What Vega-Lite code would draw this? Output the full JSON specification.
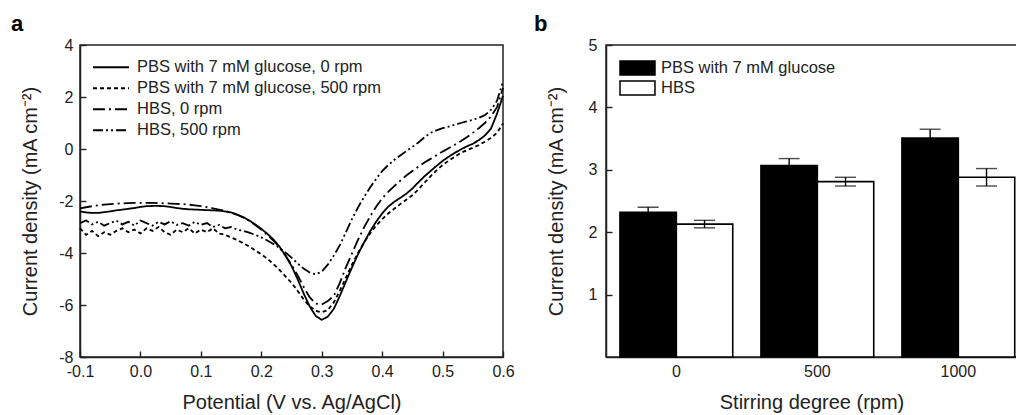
{
"$schema": "https://vega.github.io/schema/vega-lite/v6.json",
"background": "white",
"padding": {"left": 10, "top": 12, "right": 0, "bottom": 0},
"spacing": 18,
"resolve": {"legend": {"strokeDash": "independent", "fill": "independent"}},
"config": {
  "font": "Liberation Sans",
  "view": {"stroke": "#222", "strokeWidth": 1.5},
  "axis": {"grid": false, "domainColor": "#222", "tickColor": "#222", "labelColor": "#222", "titleColor": "#222", "labelFont": "Liberation Sans", "titleFont": "Liberation Sans", "labelFontSize": 16, "titleFontSize": 20, "titleFontWeight": "normal", "tickSize": -6, "tickWidth": 1.4, "domainWidth": 1.5},
  "title": {"font": "Liberation Sans", "fontSize": 22, "fontWeight": "bold", "anchor": "start", "frame": "group", "color": "black", "offset": 1},
  "legend": {"labelFont": "Liberation Sans", "labelColor": "#222", "labelFontSize": 16.5, "labelLimit": 0}
},
"datasets": {
"cv": [
{"series":"PBS with 7 mM glucose, 0 rpm","E":-0.10,"j":-2.40},{"series":"PBS with 7 mM glucose, 0 rpm","E":-0.09,"j":-2.44},{"series":"PBS with 7 mM glucose, 0 rpm","E":-0.08,"j":-2.46},{"series":"PBS with 7 mM glucose, 0 rpm","E":-0.07,"j":-2.46},{"series":"PBS with 7 mM glucose, 0 rpm","E":-0.06,"j":-2.43},{"series":"PBS with 7 mM glucose, 0 rpm","E":-0.05,"j":-2.40},{"series":"PBS with 7 mM glucose, 0 rpm","E":-0.04,"j":-2.36},{"series":"PBS with 7 mM glucose, 0 rpm","E":-0.03,"j":-2.33},{"series":"PBS with 7 mM glucose, 0 rpm","E":-0.02,"j":-2.30},{"series":"PBS with 7 mM glucose, 0 rpm","E":-0.01,"j":-2.27},
{"series":"PBS with 7 mM glucose, 0 rpm","E":0.00,"j":-2.23},{"series":"PBS with 7 mM glucose, 0 rpm","E":0.01,"j":-2.20},{"series":"PBS with 7 mM glucose, 0 rpm","E":0.02,"j":-2.19},{"series":"PBS with 7 mM glucose, 0 rpm","E":0.03,"j":-2.19},{"series":"PBS with 7 mM glucose, 0 rpm","E":0.04,"j":-2.20},{"series":"PBS with 7 mM glucose, 0 rpm","E":0.05,"j":-2.23},{"series":"PBS with 7 mM glucose, 0 rpm","E":0.06,"j":-2.27},{"series":"PBS with 7 mM glucose, 0 rpm","E":0.07,"j":-2.30},{"series":"PBS with 7 mM glucose, 0 rpm","E":0.08,"j":-2.32},{"series":"PBS with 7 mM glucose, 0 rpm","E":0.09,"j":-2.33},
{"series":"PBS with 7 mM glucose, 0 rpm","E":0.10,"j":-2.34},{"series":"PBS with 7 mM glucose, 0 rpm","E":0.11,"j":-2.35},{"series":"PBS with 7 mM glucose, 0 rpm","E":0.12,"j":-2.36},{"series":"PBS with 7 mM glucose, 0 rpm","E":0.13,"j":-2.37},{"series":"PBS with 7 mM glucose, 0 rpm","E":0.14,"j":-2.40},{"series":"PBS with 7 mM glucose, 0 rpm","E":0.15,"j":-2.44},{"series":"PBS with 7 mM glucose, 0 rpm","E":0.16,"j":-2.52},{"series":"PBS with 7 mM glucose, 0 rpm","E":0.17,"j":-2.62},{"series":"PBS with 7 mM glucose, 0 rpm","E":0.18,"j":-2.75},{"series":"PBS with 7 mM glucose, 0 rpm","E":0.19,"j":-2.90},
{"series":"PBS with 7 mM glucose, 0 rpm","E":0.20,"j":-3.07},{"series":"PBS with 7 mM glucose, 0 rpm","E":0.21,"j":-3.26},{"series":"PBS with 7 mM glucose, 0 rpm","E":0.22,"j":-3.48},{"series":"PBS with 7 mM glucose, 0 rpm","E":0.23,"j":-3.75},{"series":"PBS with 7 mM glucose, 0 rpm","E":0.24,"j":-4.10},{"series":"PBS with 7 mM glucose, 0 rpm","E":0.25,"j":-4.50},{"series":"PBS with 7 mM glucose, 0 rpm","E":0.26,"j":-5.00},{"series":"PBS with 7 mM glucose, 0 rpm","E":0.27,"j":-5.55},{"series":"PBS with 7 mM glucose, 0 rpm","E":0.28,"j":-6.05},{"series":"PBS with 7 mM glucose, 0 rpm","E":0.29,"j":-6.42},
{"series":"PBS with 7 mM glucose, 0 rpm","E":0.30,"j":-6.57},{"series":"PBS with 7 mM glucose, 0 rpm","E":0.31,"j":-6.45},{"series":"PBS with 7 mM glucose, 0 rpm","E":0.32,"j":-6.15},{"series":"PBS with 7 mM glucose, 0 rpm","E":0.33,"j":-5.65},{"series":"PBS with 7 mM glucose, 0 rpm","E":0.34,"j":-5.10},{"series":"PBS with 7 mM glucose, 0 rpm","E":0.35,"j":-4.56},{"series":"PBS with 7 mM glucose, 0 rpm","E":0.36,"j":-4.05},{"series":"PBS with 7 mM glucose, 0 rpm","E":0.37,"j":-3.60},{"series":"PBS with 7 mM glucose, 0 rpm","E":0.38,"j":-3.17},{"series":"PBS with 7 mM glucose, 0 rpm","E":0.39,"j":-2.80},
{"series":"PBS with 7 mM glucose, 0 rpm","E":0.40,"j":-2.48},{"series":"PBS with 7 mM glucose, 0 rpm","E":0.41,"j":-2.22},{"series":"PBS with 7 mM glucose, 0 rpm","E":0.42,"j":-2.03},{"series":"PBS with 7 mM glucose, 0 rpm","E":0.43,"j":-1.88},{"series":"PBS with 7 mM glucose, 0 rpm","E":0.44,"j":-1.72},{"series":"PBS with 7 mM glucose, 0 rpm","E":0.45,"j":-1.52},{"series":"PBS with 7 mM glucose, 0 rpm","E":0.46,"j":-1.28},{"series":"PBS with 7 mM glucose, 0 rpm","E":0.47,"j":-1.05},{"series":"PBS with 7 mM glucose, 0 rpm","E":0.48,"j":-0.85},{"series":"PBS with 7 mM glucose, 0 rpm","E":0.49,"j":-0.65},
{"series":"PBS with 7 mM glucose, 0 rpm","E":0.50,"j":-0.46},{"series":"PBS with 7 mM glucose, 0 rpm","E":0.51,"j":-0.30},{"series":"PBS with 7 mM glucose, 0 rpm","E":0.52,"j":-0.15},{"series":"PBS with 7 mM glucose, 0 rpm","E":0.53,"j":-0.02},{"series":"PBS with 7 mM glucose, 0 rpm","E":0.54,"j":0.10},{"series":"PBS with 7 mM glucose, 0 rpm","E":0.55,"j":0.20},{"series":"PBS with 7 mM glucose, 0 rpm","E":0.56,"j":0.34},{"series":"PBS with 7 mM glucose, 0 rpm","E":0.57,"j":0.52},{"series":"PBS with 7 mM glucose, 0 rpm","E":0.58,"j":0.78},{"series":"PBS with 7 mM glucose, 0 rpm","E":0.59,"j":1.35},{"series":"PBS with 7 mM glucose, 0 rpm","E":0.60,"j":2.05},

{"series":"PBS with 7 mM glucose, 500 rpm","E":-0.10,"j":-3.05},{"series":"PBS with 7 mM glucose, 500 rpm","E":-0.09,"j":-3.30},{"series":"PBS with 7 mM glucose, 500 rpm","E":-0.08,"j":-3.15},{"series":"PBS with 7 mM glucose, 500 rpm","E":-0.07,"j":-3.35},{"series":"PBS with 7 mM glucose, 500 rpm","E":-0.06,"j":-3.20},{"series":"PBS with 7 mM glucose, 500 rpm","E":-0.05,"j":-3.30},{"series":"PBS with 7 mM glucose, 500 rpm","E":-0.04,"j":-3.15},{"series":"PBS with 7 mM glucose, 500 rpm","E":-0.03,"j":-3.05},{"series":"PBS with 7 mM glucose, 500 rpm","E":-0.02,"j":-3.20},{"series":"PBS with 7 mM glucose, 500 rpm","E":-0.01,"j":-3.10},
{"series":"PBS with 7 mM glucose, 500 rpm","E":0.00,"j":-3.25},{"series":"PBS with 7 mM glucose, 500 rpm","E":0.01,"j":-3.05},{"series":"PBS with 7 mM glucose, 500 rpm","E":0.02,"j":-3.15},{"series":"PBS with 7 mM glucose, 500 rpm","E":0.03,"j":-3.00},{"series":"PBS with 7 mM glucose, 500 rpm","E":0.04,"j":-3.20},{"series":"PBS with 7 mM glucose, 500 rpm","E":0.05,"j":-3.30},{"series":"PBS with 7 mM glucose, 500 rpm","E":0.06,"j":-3.10},{"series":"PBS with 7 mM glucose, 500 rpm","E":0.07,"j":-3.20},{"series":"PBS with 7 mM glucose, 500 rpm","E":0.08,"j":-3.05},{"series":"PBS with 7 mM glucose, 500 rpm","E":0.09,"j":-3.25},
{"series":"PBS with 7 mM glucose, 500 rpm","E":0.10,"j":-3.10},{"series":"PBS with 7 mM glucose, 500 rpm","E":0.11,"j":-3.20},{"series":"PBS with 7 mM glucose, 500 rpm","E":0.12,"j":-3.05},{"series":"PBS with 7 mM glucose, 500 rpm","E":0.13,"j":-3.25},{"series":"PBS with 7 mM glucose, 500 rpm","E":0.14,"j":-3.30},{"series":"PBS with 7 mM glucose, 500 rpm","E":0.15,"j":-3.40},{"series":"PBS with 7 mM glucose, 500 rpm","E":0.16,"j":-3.50},{"series":"PBS with 7 mM glucose, 500 rpm","E":0.17,"j":-3.62},{"series":"PBS with 7 mM glucose, 500 rpm","E":0.18,"j":-3.75},{"series":"PBS with 7 mM glucose, 500 rpm","E":0.19,"j":-3.90},
{"series":"PBS with 7 mM glucose, 500 rpm","E":0.20,"j":-4.05},{"series":"PBS with 7 mM glucose, 500 rpm","E":0.21,"j":-4.22},{"series":"PBS with 7 mM glucose, 500 rpm","E":0.22,"j":-4.42},{"series":"PBS with 7 mM glucose, 500 rpm","E":0.23,"j":-4.65},{"series":"PBS with 7 mM glucose, 500 rpm","E":0.24,"j":-4.90},{"series":"PBS with 7 mM glucose, 500 rpm","E":0.25,"j":-5.15},{"series":"PBS with 7 mM glucose, 500 rpm","E":0.26,"j":-5.45},{"series":"PBS with 7 mM glucose, 500 rpm","E":0.27,"j":-5.78},{"series":"PBS with 7 mM glucose, 500 rpm","E":0.28,"j":-6.05},{"series":"PBS with 7 mM glucose, 500 rpm","E":0.29,"j":-6.22},
{"series":"PBS with 7 mM glucose, 500 rpm","E":0.30,"j":-6.28},{"series":"PBS with 7 mM glucose, 500 rpm","E":0.31,"j":-6.20},{"series":"PBS with 7 mM glucose, 500 rpm","E":0.32,"j":-5.90},{"series":"PBS with 7 mM glucose, 500 rpm","E":0.33,"j":-5.45},{"series":"PBS with 7 mM glucose, 500 rpm","E":0.34,"j":-4.95},{"series":"PBS with 7 mM glucose, 500 rpm","E":0.35,"j":-4.45},{"series":"PBS with 7 mM glucose, 500 rpm","E":0.36,"j":-4.00},{"series":"PBS with 7 mM glucose, 500 rpm","E":0.37,"j":-3.60},{"series":"PBS with 7 mM glucose, 500 rpm","E":0.38,"j":-3.25},{"series":"PBS with 7 mM glucose, 500 rpm","E":0.39,"j":-2.95},
{"series":"PBS with 7 mM glucose, 500 rpm","E":0.40,"j":-2.70},{"series":"PBS with 7 mM glucose, 500 rpm","E":0.41,"j":-2.48},{"series":"PBS with 7 mM glucose, 500 rpm","E":0.42,"j":-2.30},{"series":"PBS with 7 mM glucose, 500 rpm","E":0.43,"j":-2.12},{"series":"PBS with 7 mM glucose, 500 rpm","E":0.44,"j":-1.95},{"series":"PBS with 7 mM glucose, 500 rpm","E":0.45,"j":-1.78},{"series":"PBS with 7 mM glucose, 500 rpm","E":0.46,"j":-1.55},{"series":"PBS with 7 mM glucose, 500 rpm","E":0.47,"j":-1.30},{"series":"PBS with 7 mM glucose, 500 rpm","E":0.48,"j":-1.05},{"series":"PBS with 7 mM glucose, 500 rpm","E":0.49,"j":-0.82},
{"series":"PBS with 7 mM glucose, 500 rpm","E":0.50,"j":-0.62},{"series":"PBS with 7 mM glucose, 500 rpm","E":0.51,"j":-0.45},{"series":"PBS with 7 mM glucose, 500 rpm","E":0.52,"j":-0.30},{"series":"PBS with 7 mM glucose, 500 rpm","E":0.53,"j":-0.15},{"series":"PBS with 7 mM glucose, 500 rpm","E":0.54,"j":-0.05},{"series":"PBS with 7 mM glucose, 500 rpm","E":0.55,"j":0.05},{"series":"PBS with 7 mM glucose, 500 rpm","E":0.56,"j":0.15},{"series":"PBS with 7 mM glucose, 500 rpm","E":0.57,"j":0.28},{"series":"PBS with 7 mM glucose, 500 rpm","E":0.58,"j":0.42},{"series":"PBS with 7 mM glucose, 500 rpm","E":0.59,"j":0.62},{"series":"PBS with 7 mM glucose, 500 rpm","E":0.60,"j":0.98},

{"series":"HBS, 0 rpm","E":-0.10,"j":-2.28},{"series":"HBS, 0 rpm","E":-0.09,"j":-2.24},{"series":"HBS, 0 rpm","E":-0.08,"j":-2.20},{"series":"HBS, 0 rpm","E":-0.07,"j":-2.17},{"series":"HBS, 0 rpm","E":-0.06,"j":-2.14},{"series":"HBS, 0 rpm","E":-0.05,"j":-2.12},{"series":"HBS, 0 rpm","E":-0.04,"j":-2.10},{"series":"HBS, 0 rpm","E":-0.03,"j":-2.09},{"series":"HBS, 0 rpm","E":-0.02,"j":-2.08},{"series":"HBS, 0 rpm","E":-0.01,"j":-2.07},
{"series":"HBS, 0 rpm","E":0.00,"j":-2.07},{"series":"HBS, 0 rpm","E":0.01,"j":-2.07},{"series":"HBS, 0 rpm","E":0.02,"j":-2.07},{"series":"HBS, 0 rpm","E":0.03,"j":-2.08},{"series":"HBS, 0 rpm","E":0.04,"j":-2.09},{"series":"HBS, 0 rpm","E":0.05,"j":-2.10},{"series":"HBS, 0 rpm","E":0.06,"j":-2.11},{"series":"HBS, 0 rpm","E":0.07,"j":-2.12},{"series":"HBS, 0 rpm","E":0.08,"j":-2.14},{"series":"HBS, 0 rpm","E":0.09,"j":-2.17},
{"series":"HBS, 0 rpm","E":0.10,"j":-2.20},{"series":"HBS, 0 rpm","E":0.11,"j":-2.24},{"series":"HBS, 0 rpm","E":0.12,"j":-2.28},{"series":"HBS, 0 rpm","E":0.13,"j":-2.33},{"series":"HBS, 0 rpm","E":0.14,"j":-2.38},{"series":"HBS, 0 rpm","E":0.15,"j":-2.45},{"series":"HBS, 0 rpm","E":0.16,"j":-2.53},{"series":"HBS, 0 rpm","E":0.17,"j":-2.63},{"series":"HBS, 0 rpm","E":0.18,"j":-2.76},{"series":"HBS, 0 rpm","E":0.19,"j":-2.92},
{"series":"HBS, 0 rpm","E":0.20,"j":-3.10},{"series":"HBS, 0 rpm","E":0.21,"j":-3.30},{"series":"HBS, 0 rpm","E":0.22,"j":-3.52},{"series":"HBS, 0 rpm","E":0.23,"j":-3.78},{"series":"HBS, 0 rpm","E":0.24,"j":-4.10},{"series":"HBS, 0 rpm","E":0.25,"j":-4.45},{"series":"HBS, 0 rpm","E":0.26,"j":-4.85},{"series":"HBS, 0 rpm","E":0.27,"j":-5.30},{"series":"HBS, 0 rpm","E":0.28,"j":-5.70},{"series":"HBS, 0 rpm","E":0.29,"j":-5.95},
{"series":"HBS, 0 rpm","E":0.30,"j":-5.98},{"series":"HBS, 0 rpm","E":0.31,"j":-5.85},{"series":"HBS, 0 rpm","E":0.32,"j":-5.65},{"series":"HBS, 0 rpm","E":0.33,"j":-5.15},{"series":"HBS, 0 rpm","E":0.34,"j":-4.55},{"series":"HBS, 0 rpm","E":0.35,"j":-4.02},{"series":"HBS, 0 rpm","E":0.36,"j":-3.50},{"series":"HBS, 0 rpm","E":0.37,"j":-3.02},{"series":"HBS, 0 rpm","E":0.38,"j":-2.60},{"series":"HBS, 0 rpm","E":0.39,"j":-2.22},
{"series":"HBS, 0 rpm","E":0.40,"j":-1.90},{"series":"HBS, 0 rpm","E":0.41,"j":-1.65},{"series":"HBS, 0 rpm","E":0.42,"j":-1.43},{"series":"HBS, 0 rpm","E":0.43,"j":-1.22},{"series":"HBS, 0 rpm","E":0.44,"j":-1.02},{"series":"HBS, 0 rpm","E":0.45,"j":-0.85},{"series":"HBS, 0 rpm","E":0.46,"j":-0.68},{"series":"HBS, 0 rpm","E":0.47,"j":-0.52},{"series":"HBS, 0 rpm","E":0.48,"j":-0.38},{"series":"HBS, 0 rpm","E":0.49,"j":-0.24},
{"series":"HBS, 0 rpm","E":0.50,"j":-0.10},{"series":"HBS, 0 rpm","E":0.51,"j":0.03},{"series":"HBS, 0 rpm","E":0.52,"j":0.16},{"series":"HBS, 0 rpm","E":0.53,"j":0.30},{"series":"HBS, 0 rpm","E":0.54,"j":0.45},{"series":"HBS, 0 rpm","E":0.55,"j":0.62},{"series":"HBS, 0 rpm","E":0.56,"j":0.80},{"series":"HBS, 0 rpm","E":0.57,"j":1.00},{"series":"HBS, 0 rpm","E":0.58,"j":1.25},{"series":"HBS, 0 rpm","E":0.59,"j":1.60},{"series":"HBS, 0 rpm","E":0.60,"j":2.35},

{"series":"HBS, 500 rpm","E":-0.10,"j":-2.85},{"series":"HBS, 500 rpm","E":-0.09,"j":-2.75},{"series":"HBS, 500 rpm","E":-0.08,"j":-2.90},{"series":"HBS, 500 rpm","E":-0.07,"j":-2.80},{"series":"HBS, 500 rpm","E":-0.06,"j":-2.95},{"series":"HBS, 500 rpm","E":-0.05,"j":-2.85},{"series":"HBS, 500 rpm","E":-0.04,"j":-2.75},{"series":"HBS, 500 rpm","E":-0.03,"j":-2.90},{"series":"HBS, 500 rpm","E":-0.02,"j":-2.80},{"series":"HBS, 500 rpm","E":-0.01,"j":-2.95},
{"series":"HBS, 500 rpm","E":0.00,"j":-2.75},{"series":"HBS, 500 rpm","E":0.01,"j":-2.85},{"series":"HBS, 500 rpm","E":0.02,"j":-2.95},{"series":"HBS, 500 rpm","E":0.03,"j":-2.80},{"series":"HBS, 500 rpm","E":0.04,"j":-2.90},{"series":"HBS, 500 rpm","E":0.05,"j":-2.78},{"series":"HBS, 500 rpm","E":0.06,"j":-2.92},{"series":"HBS, 500 rpm","E":0.07,"j":-2.85},{"series":"HBS, 500 rpm","E":0.08,"j":-2.95},{"series":"HBS, 500 rpm","E":0.09,"j":-2.80},
{"series":"HBS, 500 rpm","E":0.10,"j":-2.92},{"series":"HBS, 500 rpm","E":0.11,"j":-2.85},{"series":"HBS, 500 rpm","E":0.12,"j":-3.00},{"series":"HBS, 500 rpm","E":0.13,"j":-2.92},{"series":"HBS, 500 rpm","E":0.14,"j":-3.05},{"series":"HBS, 500 rpm","E":0.15,"j":-3.00},{"series":"HBS, 500 rpm","E":0.16,"j":-3.10},{"series":"HBS, 500 rpm","E":0.17,"j":-3.15},{"series":"HBS, 500 rpm","E":0.18,"j":-3.22},{"series":"HBS, 500 rpm","E":0.19,"j":-3.30},
{"series":"HBS, 500 rpm","E":0.20,"j":-3.40},{"series":"HBS, 500 rpm","E":0.21,"j":-3.52},{"series":"HBS, 500 rpm","E":0.22,"j":-3.65},{"series":"HBS, 500 rpm","E":0.23,"j":-3.80},{"series":"HBS, 500 rpm","E":0.24,"j":-3.98},{"series":"HBS, 500 rpm","E":0.25,"j":-4.18},{"series":"HBS, 500 rpm","E":0.26,"j":-4.40},{"series":"HBS, 500 rpm","E":0.27,"j":-4.60},{"series":"HBS, 500 rpm","E":0.28,"j":-4.75},{"series":"HBS, 500 rpm","E":0.29,"j":-4.82},
{"series":"HBS, 500 rpm","E":0.30,"j":-4.72},{"series":"HBS, 500 rpm","E":0.31,"j":-4.45},{"series":"HBS, 500 rpm","E":0.32,"j":-4.10},{"series":"HBS, 500 rpm","E":0.33,"j":-3.70},{"series":"HBS, 500 rpm","E":0.34,"j":-3.20},{"series":"HBS, 500 rpm","E":0.35,"j":-2.70},{"series":"HBS, 500 rpm","E":0.36,"j":-2.25},{"series":"HBS, 500 rpm","E":0.37,"j":-1.85},{"series":"HBS, 500 rpm","E":0.38,"j":-1.48},{"series":"HBS, 500 rpm","E":0.39,"j":-1.15},
{"series":"HBS, 500 rpm","E":0.40,"j":-0.85},{"series":"HBS, 500 rpm","E":0.41,"j":-0.62},{"series":"HBS, 500 rpm","E":0.42,"j":-0.42},{"series":"HBS, 500 rpm","E":0.43,"j":-0.25},{"series":"HBS, 500 rpm","E":0.44,"j":-0.08},{"series":"HBS, 500 rpm","E":0.45,"j":0.08},{"series":"HBS, 500 rpm","E":0.46,"j":0.25},{"series":"HBS, 500 rpm","E":0.47,"j":0.45},{"series":"HBS, 500 rpm","E":0.48,"j":0.62},{"series":"HBS, 500 rpm","E":0.49,"j":0.72},
{"series":"HBS, 500 rpm","E":0.50,"j":0.80},{"series":"HBS, 500 rpm","E":0.51,"j":0.86},{"series":"HBS, 500 rpm","E":0.52,"j":0.93},{"series":"HBS, 500 rpm","E":0.53,"j":1.00},{"series":"HBS, 500 rpm","E":0.54,"j":1.06},{"series":"HBS, 500 rpm","E":0.55,"j":1.12},{"series":"HBS, 500 rpm","E":0.56,"j":1.20},{"series":"HBS, 500 rpm","E":0.57,"j":1.30},{"series":"HBS, 500 rpm","E":0.58,"j":1.50},{"series":"HBS, 500 rpm","E":0.59,"j":1.85},{"series":"HBS, 500 rpm","E":0.60,"j":2.60}
],
"bars": [
{"rpm":"0","solution":"PBS with 7 mM glucose","mean":2.32,"low":2.24,"high":2.40},
{"rpm":"0","solution":"HBS","mean":2.13,"low":2.07,"high":2.19},
{"rpm":"500","solution":"PBS with 7 mM glucose","mean":3.07,"low":2.96,"high":3.18},
{"rpm":"500","solution":"HBS","mean":2.81,"low":2.74,"high":2.88},
{"rpm":"1000","solution":"PBS with 7 mM glucose","mean":3.51,"low":3.37,"high":3.65},
{"rpm":"1000","solution":"HBS","mean":2.88,"low":2.74,"high":3.02}
]
},
"hconcat": [
{
  "width": 423, "height": 312,
  "title": {"text": "a", "dx": -69},
  "data": {"name": "cv"},
  "mark": {"type": "line", "strokeWidth": 1.8, "color": "black"},
  "encoding": {
    "x": {"field": "E", "type": "quantitative", "scale": {"domain": [-0.1, 0.6], "nice": false, "zero": false},
      "axis": {"title": "Potential (V vs. Ag/AgCl)", "values": [-0.1, 0, 0.1, 0.2, 0.3, 0.4, 0.5, 0.6], "labelExpr": "datum.value < 0 ? '-' + format(-datum.value, '.1f') : format(datum.value, '.1f')", "labelPadding": 12, "titlePadding": 13, "labelFlush": false}},
    "y": {"field": "j", "type": "quantitative", "scale": {"domain": [-8, 4], "nice": false, "zero": false},
      "axis": {"title": "Current density (mA cm⁻²)", "values": [-8, -6, -4, -2, 0, 2, 4], "labelExpr": "datum.value < 0 ? '-' + format(-datum.value, 'd') : format(datum.value, 'd')", "labelPadding": 13, "titlePadding": 18, "labelFlush": false}},
    "strokeDash": {"field": "series", "type": "nominal",
      "scale": {"domain": ["PBS with 7 mM glucose, 0 rpm", "PBS with 7 mM glucose, 500 rpm", "HBS, 0 rpm", "HBS, 500 rpm"], "range": [[1, 0], [4, 3], [12, 4, 2, 4], [10, 3, 2, 3, 2, 3]]},
      "legend": {"title": null, "orient": "top-left", "offset": 12, "padding": 0, "symbolType": "stroke", "symbolSize": 1296, "symbolStrokeWidth": 1.8, "symbolStrokeColor": "black", "labelOffset": 7, "clipHeight": 20.5, "rowPadding": 0}}
  }
},
{
  "width": 411, "height": 312,
  "title": {"text": "b", "dx": -72},
  "data": {"name": "bars"},
  "encoding": {
    "x": {"field": "rpm", "type": "nominal", "sort": ["0", "500", "1000"], "scale": {"paddingInner": 0.2, "paddingOuter": 0.0575, "align": 0.86},
      "axis": {"title": "Stirring degree (rpm)", "labelAngle": 0, "ticks": false, "labelPadding": 6, "titlePadding": 13}},
    "xOffset": {"field": "solution", "type": "nominal", "sort": ["PBS with 7 mM glucose", "HBS"], "scale": {"paddingInner": 0, "paddingOuter": 0}}
  },
  "layer": [
    {"mark": {"type": "bar", "stroke": "black", "strokeWidth": 1.6},
     "encoding": {
       "y": {"field": "mean", "type": "quantitative", "scale": {"domain": [0, 5], "nice": false},
         "axis": {"title": "Current density (mA cm⁻²)", "values": [1, 2, 3, 4, 5], "labelPadding": 15, "titlePadding": 22}},
       "fill": {"field": "solution", "type": "nominal", "scale": {"domain": ["PBS with 7 mM glucose", "HBS"], "range": ["black", "white"]},
         "legend": {"title": null, "orient": "top-left", "offset": 13, "padding": 0, "symbolType": "M-1,-0.4H1V0.4H-1Z", "symbolSize": 1225, "symbolStrokeColor": "black", "symbolStrokeWidth": 1.5, "symbolOpacity": 1, "labelOffset": 5, "clipHeight": 20, "rowPadding": 0}}
     }},
    {"mark": {"type": "rule", "color": "black", "strokeWidth": 1.4},
     "encoding": {
       "y": {"field": "low", "type": "quantitative", "axis": {"title": "Current density (mA cm⁻²)", "values": [1, 2, 3, 4, 5], "labelPadding": 15, "titlePadding": 22}},
       "y2": {"field": "high"}
     }},
    {"mark": {"type": "tick", "color": "black", "thickness": 1.4, "size": 21},
     "encoding": {
       "y": {"field": "high", "type": "quantitative", "axis": {"title": "Current density (mA cm⁻²)", "values": [1, 2, 3, 4, 5], "labelPadding": 15, "titlePadding": 22}}
     }},
    {"mark": {"type": "tick", "color": "black", "thickness": 1.4, "size": 21},
     "encoding": {
       "y": {"field": "low", "type": "quantitative", "axis": {"title": "Current density (mA cm⁻²)", "values": [1, 2, 3, 4, 5], "labelPadding": 15, "titlePadding": 22}}
     }}
  ]
}
]
}
